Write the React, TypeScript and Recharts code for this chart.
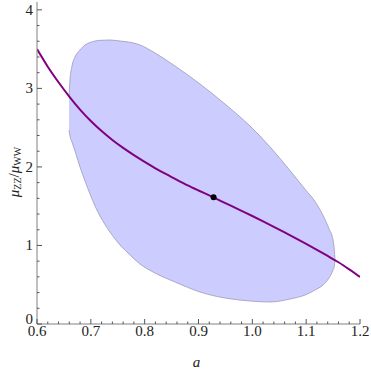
import { ComposedChart, Area, Line, Scatter, XAxis, YAxis } from "recharts";

// allowed region (confidence contour), lower and upper edge per a-value
const REGION_X = [
  0.6595, 0.6613, 0.665, 0.6706, 0.6799, 0.6892, 0.6985, 0.7078, 0.717, 0.7356, 0.7542, 0.7728,
  0.7913, 0.8192, 0.8564, 0.9028, 0.9492, 0.9957, 1.0328, 1.07, 1.0979, 1.1164, 1.1313, 1.1424,
  1.1499, 1.1523, 1.1536,
];
const REGION_LOW = [
  2.47, 2.394, 2.317, 2.203, 1.999, 1.821, 1.655, 1.502, 1.375, 1.171, 1.006, 0.879,
  0.764, 0.649, 0.535, 0.407, 0.331, 0.293, 0.28, 0.318, 0.369, 0.433, 0.497, 0.586,
  0.688, 0.738, 0.815,
];
const REGION_HIGH = [
  2.89, 3.107, 3.285, 3.4, 3.489, 3.553, 3.584, 3.603, 3.612, 3.616, 3.603, 3.587,
  3.553, 3.451, 3.285, 3.056, 2.801, 2.521, 2.256, 1.953, 1.716, 1.56, 1.383, 1.213,
  1.07, 0.942, 0.815,
];

// purple prediction curve
const CURVE_X = [
  0.6, 0.62, 0.64, 0.66, 0.68, 0.7, 0.72, 0.74, 0.76, 0.78, 0.8, 0.82, 0.84, 0.86, 0.88, 0.9,
  0.92, 0.94, 0.96, 0.98, 1.0, 1.02, 1.04, 1.06, 1.08, 1.1, 1.12, 1.14, 1.16, 1.18, 1.2,
];
const CURVE_Y = [
  3.5, 3.276, 3.078, 2.896, 2.73, 2.584, 2.456, 2.343, 2.242, 2.15, 2.064, 1.983, 1.907, 1.835, 1.765, 1.7,
  1.637, 1.572, 1.507, 1.441, 1.375, 1.307, 1.238, 1.167, 1.094, 1.02, 0.944, 0.866, 0.786, 0.696, 0.6,
];

const BEST_X = 0.928;
const BEST_Y = 1.613;

const X_TICKS = [
  0.6, 0.62, 0.64, 0.66, 0.68, 0.7, 0.72, 0.74, 0.76, 0.78, 0.8, 0.82, 0.84, 0.86, 0.88, 0.9,
  0.92, 0.94, 0.96, 0.98, 1.0, 1.02, 1.04, 1.06, 1.08, 1.1, 1.12, 1.14, 1.16, 1.18, 1.2,
];
const Y_TICKS = [
  0, 0.2, 0.4, 0.6, 0.8, 1, 1.2, 1.4, 1.6, 1.8, 2, 2.2, 2.4, 2.6, 2.8, 3, 3.2, 3.4, 3.6, 3.8, 4,
];

const regionData = REGION_X.map((x, i) => ({ x, range: [REGION_LOW[i], REGION_HIGH[i]] }));
const curveData = CURVE_X.map((x, i) => ({ x, y: CURVE_Y[i] }));
const bestData = [{ x: BEST_X, y: BEST_Y }];

const FRAME = "#808080";
const TICK = "#555";
const FONT = "Liberation Serif";
const textStyle = { fontFamily: FONT, fontSize: 15, fill: "#222" };

const isMajor = (v: number, step: number) => Math.abs(v / step - Math.round(v / step)) < 1e-6;

function BottomTick({ x, y, payload }: any) {
  const v = payload.value as number;
  const major = isMajor(v, 0.1);
  return (
    <g>
      <line x1={x} x2={x} y1={y} y2={y - (major ? 5 : 2.5)} stroke={TICK} />
      {major && (
        <text x={x} y={y + 12} textAnchor="middle" style={textStyle}>
          {v.toFixed(1)}
        </text>
      )}
    </g>
  );
}

function TopTick({ x, y, payload }: any) {
  const major = isMajor(payload.value, 0.1);
  return <line x1={x} x2={x} y1={y} y2={y + (major ? 5 : 2.5)} stroke={TICK} />;
}

function LeftTick({ x, y, payload }: any) {
  const v = payload.value as number;
  const major = isMajor(v, 1);
  return (
    <g>
      <line x1={x} x2={x + (major ? 5 : 2.5)} y1={y} y2={y} stroke={TICK} />
      {major && (
        <text x={x - 4} y={v === 0 ? y : y + 5} textAnchor="end" style={textStyle}>
          {v}
        </text>
      )}
    </g>
  );
}

function RightTick({ x, y, payload }: any) {
  const major = isMajor(payload.value, 1);
  return <line x1={x} x2={x - (major ? 5 : 2.5)} y1={y} y2={y} stroke={TICK} />;
}

function XLabel(props: any) {
  const vb = props.viewBox;
  return (
    <text
      x={vb.x + vb.width / 2 - 2}
      y={vb.y + vb.height - 6}
      textAnchor="middle"
      style={{ ...textStyle, fontStyle: "italic" }}
    >
      a
    </text>
  );
}

function YLabel(props: any) {
  const vb = props.viewBox;
  const cx = vb.x + 14;
  const cy = vb.y + vb.height / 2 + 9;
  return (
    <text
      x={cx}
      y={cy}
      transform={`rotate(-90, ${cx}, ${cy})`}
      textAnchor="middle"
      dominantBaseline="central"
      style={textStyle}
    >
      <tspan fontStyle="italic">μ</tspan>
      <tspan fontSize={10} dy={3}>ZZ</tspan>
      <tspan dy={-3}>/</tspan>
      <tspan fontStyle="italic">μ</tspan>
      <tspan fontSize={10} dy={3}>WW</tspan>
    </text>
  );
}

export default function App() {
  return (
    <>
      <style>{"body{margin:0}"}</style>
      <ComposedChart width={371} height={373} margin={{ top: 2, right: 11, bottom: 0, left: 0 }}>
        <XAxis
          type="number"
          dataKey="x"
          domain={[0.6, 1.2]}
          ticks={X_TICKS}
          interval={0}
          allowDataOverflow
          height={49}
          tickSize={0}
          tickMargin={0}
          tickLine={false}
          axisLine={{ stroke: FRAME }}
          tick={BottomTick}
          label={XLabel}
        />
        <XAxis
          xAxisId="top"
          orientation="top"
          type="number"
          dataKey="x"
          domain={[0.6, 1.2]}
          ticks={X_TICKS}
          interval={0}
          allowDataOverflow
          height={0}
          tickSize={0}
          tickMargin={0}
          tickLine={false}
          axisLine={{ stroke: FRAME }}
          tick={TopTick}
        />
        <YAxis
          type="number"
          domain={[0, 4.1]}
          ticks={Y_TICKS}
          interval={0}
          allowDataOverflow
          width={37}
          tickSize={0}
          tickMargin={0}
          tickLine={false}
          axisLine={{ stroke: FRAME }}
          tick={LeftTick}
          label={YLabel}
        />
        <YAxis
          yAxisId="right"
          orientation="right"
          type="number"
          domain={[0, 4.1]}
          ticks={Y_TICKS}
          interval={0}
          allowDataOverflow
          width={0}
          tickSize={0}
          tickMargin={0}
          tickLine={false}
          axisLine={{ stroke: FRAME }}
          tick={RightTick}
        />
        <Area
          data={regionData}
          dataKey="range"
          type="monotone"
          fill="#ccccff"
          fillOpacity={1}
          stroke="#9a9ab8"
          strokeWidth={0.8}
          dot={false}
          activeDot={false}
          isAnimationActive={false}
        />
        <Line
          data={curveData}
          dataKey="y"
          type="monotone"
          stroke="#800080"
          strokeWidth={2}
          dot={false}
          activeDot={false}
          isAnimationActive={false}
        />
        <Scatter
          data={bestData}
          dataKey="y"
          shape={(p: any) => <circle cx={p.cx} cy={p.cy} r={3} fill="#000" />}
          isAnimationActive={false}
        />
      </ComposedChart>
    </>
  );
}
